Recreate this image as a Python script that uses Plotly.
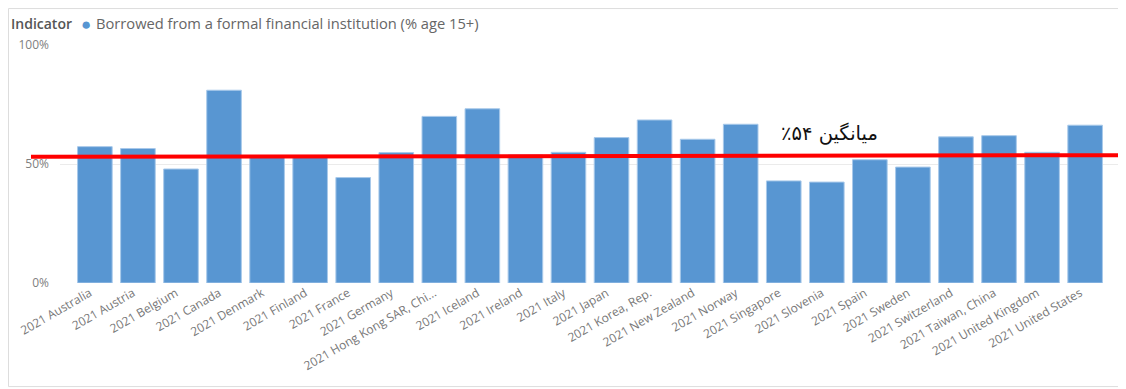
import plotly.graph_objects as go

countries = ["2021 Australia", "2021 Austria", "2021 Belgium", "2021 Canada", "2021 Denmark",
             "2021 Finland", "2021 France", "2021 Germany", "2021 Hong Kong SAR, China",
             "2021 Iceland", "2021 Ireland", "2021 Italy", "2021 Japan", "2021 Korea, Rep.",
             "2021 New Zealand", "2021 Norway", "2021 Singapore", "2021 Slovenia", "2021 Spain",
             "2021 Sweden", "2021 Switzerland", "2021 Taiwan, China", "2021 United Kingdom",
             "2021 United States"]
tick_labels = ["2021 Australia", "2021 Austria", "2021 Belgium", "2021 Canada", "2021 Denmark",
               "2021 Finland", "2021 France", "2021 Germany", "2021 Hong Kong SAR, Chi...",
               "2021 Iceland", "2021 Ireland", "2021 Italy", "2021 Japan", "2021 Korea, Rep.",
               "2021 New Zealand", "2021 Norway", "2021 Singapore", "2021 Slovenia", "2021 Spain",
               "2021 Sweden", "2021 Switzerland", "2021 Taiwan, China", "2021 United Kingdom",
               "2021 United States"]
borrowed = [57.3, 56.5, 47.9, 81.0, 53.2, 53.0, 44.3, 54.8, 70.0, 73.2, 53.8, 54.9,
            61.1, 68.5, 60.4, 66.7, 42.9, 42.4, 51.8, 48.7, 61.4, 61.9, 54.9, 66.3]
y_ticks = [0, 50, 100]
y_tick_labels = ["0%", "50%", "100%"]
avg_line = [53.0, 53.7]   # hand-drawn average line (left, right)
avg_label = "\u202bمیانگین ۵۴٪\u202c"
series_name = "Borrowed from a formal financial institution (% age 15+)"

OFF = 8  # default page body margin
W, H = 1126 - OFF, 389 - OFF
L, R, T, B = 60 - OFF, 1120 - OFF, 45 - OFF, 283.3 - OFF


def px(x):
    """page x pixel -> paper coordinate"""
    return (x - OFF - L) / (R - L)


def py(y):
    """page y pixel -> paper coordinate"""
    return (B - (y - OFF)) / (B - T)


fig = go.Figure()
fig.add_trace(go.Bar(
    x=list(range(len(countries))), y=borrowed, name=series_name,
    hovertext=countries,
    marker=dict(color="#5896D2", line=dict(color="#A8C9EA", width=1)),
    showlegend=False,
))

fig.update_layout(
    width=W, height=H,
    margin=dict(l=L, r=W - R, t=T, b=H - B, pad=0),
    paper_bgcolor="white", plot_bgcolor="white",
    bargap=0.196,
    font=dict(family="Segoe UI, Open Sans, sans-serif", color="#666666"),
    xaxis=dict(
        range=[-0.81, 23.81], tickmode="array",
        tickvals=list(range(len(countries))), ticktext=tick_labels,
        tickangle=-30, tickfont=dict(size=12, color="#777777"),
        ticklabelshift=-5,
        showgrid=False, zeroline=False, showline=False, ticks="",
        automargin=False,
    ),
    yaxis=dict(
        range=[0, 100], tickmode="array", tickvals=y_ticks, ticktext=y_tick_labels,
        tickfont=dict(size=12, color="#808080"),
        showgrid=True, gridcolor="#EBEBEB", gridwidth=1,
        zeroline=False, showline=False, ticks="", ticklabelstandoff=10,
        automargin=False,
    ),
)

shapes = [
    # card border
    dict(type="rect", xref="paper", yref="paper",
         x0=px(OFF + 0.5), x1=px(1124), y0=py(387), y1=py(OFF + 0.5),
         line=dict(color="#DDDDDD", width=1), layer="below"),
    # average line
    dict(type="line", xref="paper", yref="y",
         x0=px(31), x1=px(1130), y0=avg_line[0], y1=avg_line[1],
         line=dict(color="#FF0000", width=4)),
]
fig.update_layout(shapes=shapes)

annotations = [
    dict(text="Indicator", xref="paper", yref="paper", x=px(9), y=py(23),
         xanchor="left", yanchor="middle", showarrow=False,
         font=dict(size=14, color="#555555", weight=600,
                   family="Segoe UI, Open Sans, sans-serif")),
    dict(text="●", xref="paper", yref="paper", x=px(79), y=py(23),
         xanchor="left", yanchor="middle", showarrow=False,
         font=dict(size=17, color="#5896D2")),
    dict(text=series_name, xref="paper", yref="paper", x=px(94), y=py(23),
         xanchor="left", yanchor="middle", showarrow=False,
         font=dict(size=14.7, color="#666666", family="Segoe UI, Open Sans, sans-serif")),
    dict(text=avg_label, xref="paper", yref="paper", x=px(829), y=py(134),
         xanchor="center", yanchor="middle", showarrow=False,
         font=dict(size=19.5, color="#111111", family="DejaVu Sans, sans-serif")),
]
fig.update_layout(annotations=annotations)

fig.write_html("out.html")
